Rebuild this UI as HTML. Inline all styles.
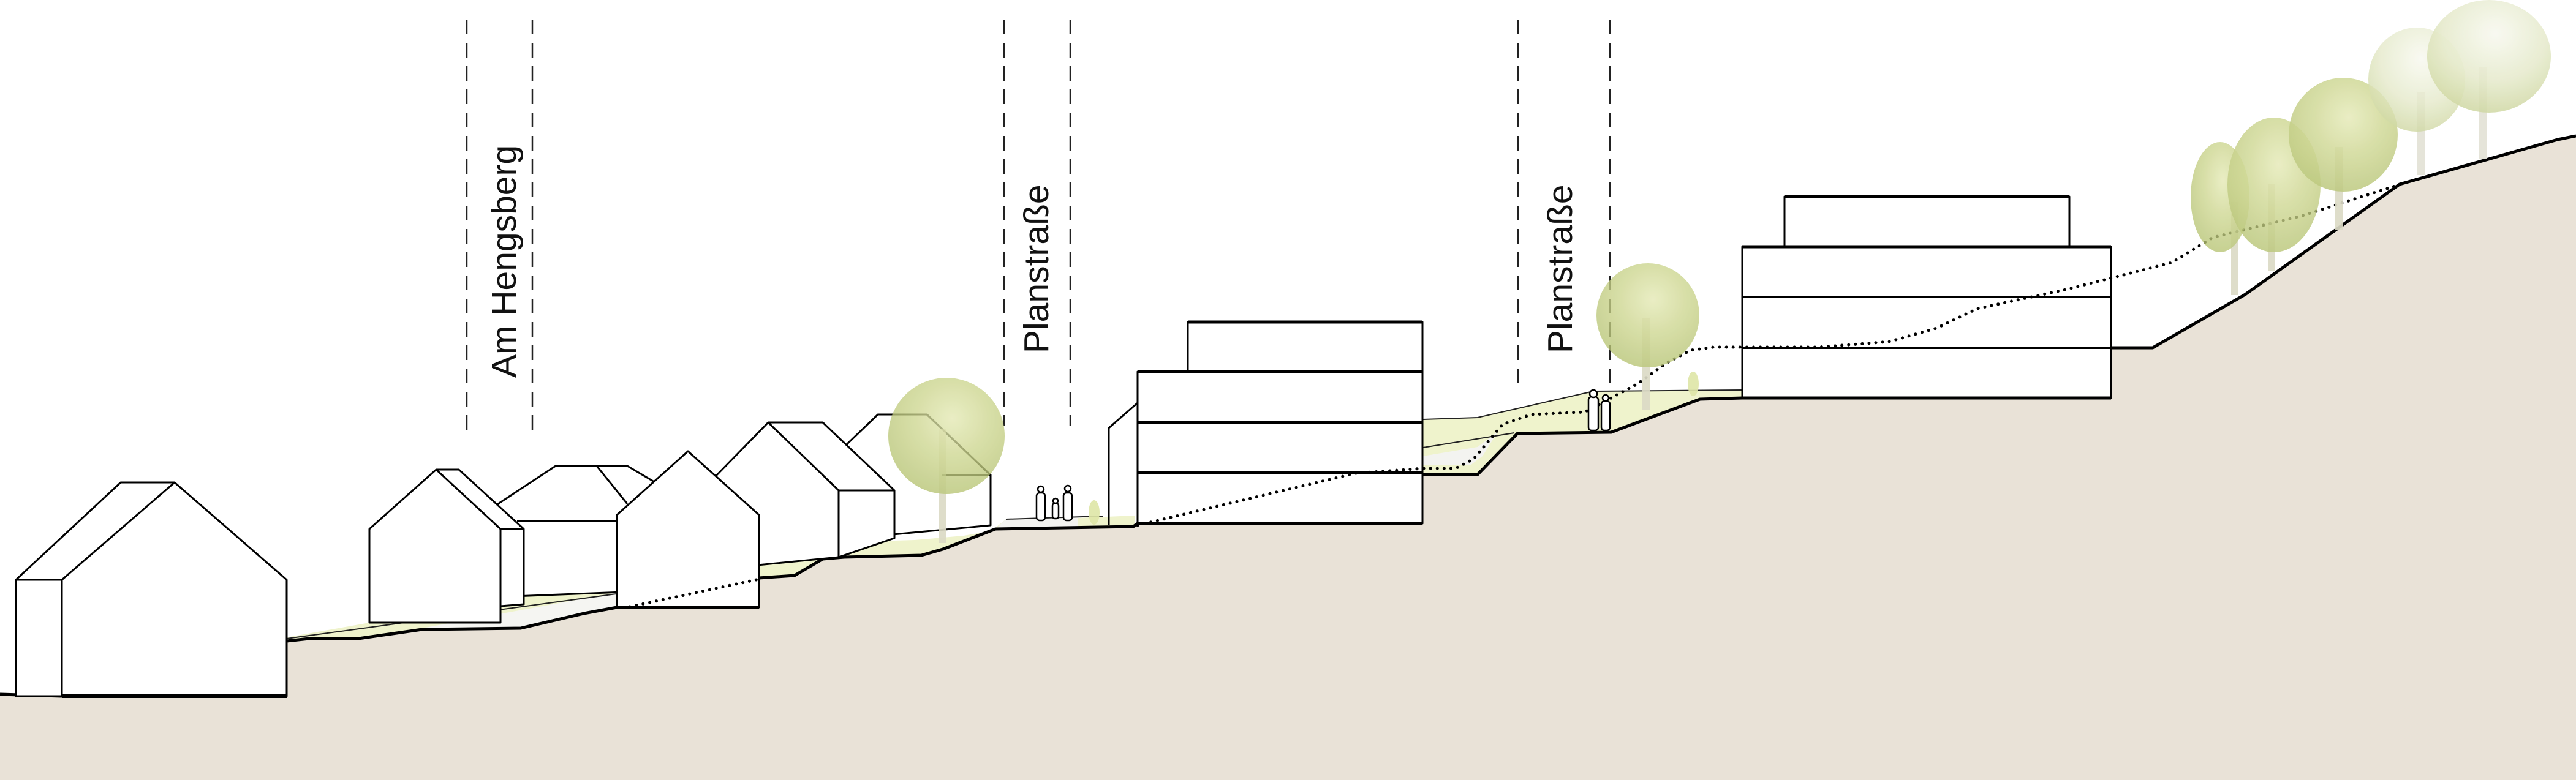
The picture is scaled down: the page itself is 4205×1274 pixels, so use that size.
<!DOCTYPE html>
<html><head><meta charset="utf-8"><style>
html,body{margin:0;padding:0;background:#fff}
svg{display:block}
text{font-family:"Liberation Sans",Arial,sans-serif;font-size:57px;fill:#111}
</style></head><body>
<svg width="4205" height="1274" viewBox="0 0 4205 1274" xmlns="http://www.w3.org/2000/svg">
<defs>
<radialGradient id="tg" cx="0.55" cy="0.35" r="0.65">
<stop offset="0" stop-color="#e4e9b4"/><stop offset="0.5" stop-color="#cdd68f"/><stop offset="1" stop-color="#b7c474"/>
</radialGradient>
<radialGradient id="tf" cx="0.55" cy="0.3" r="0.7">
<stop offset="0" stop-color="#f7f8ee"/><stop offset="0.6" stop-color="#e3e8c6"/><stop offset="1" stop-color="#ccd59c"/>
</radialGradient>
</defs>

<!-- ground -->
<polygon fill="#e9e2d7" points="0,1134 101,1137 468,1137 468,1047 505,1043 585,1043 689,1028 850,1026 953,1002 1007,992 1239,992 1239,944 1297,940 1343,913 1378,910 1504,907 1539,897 1625,864 1850,860 1857,855 2322,855 2322,775 2412,775 2477,708 2630,706 2775,652 2844,650 3446,650 3446,568 3514,568 3665,481 3917,301 4175,228 4205,222 4205,1274 0,1274"/>

<!-- green strips -->
<polygon fill="#eff3cc" points="468,1041 603,1017 689,1002 758,993 817,989 855,965 918,968 1006,963 1007,992 953,1002 850,1026 689,1028 585,1043 505,1043 468,1047"/>
<polygon fill="#f5f5f2" points="689,1026 1006,968 1007,992 953,1002 850,1026"/>
<polygon fill="#eff3cc" points="1239,918 1332,913 1372,905 1424,884 1493,882 1573,875 1619,867 1642,848 1642,862 1625,864 1539,897 1504,907 1378,910 1343,913 1297,940 1239,944"/>
<polygon fill="#f3f3f0" points="1642,848 1800,843 1800,860 1625,864"/>
<polygon fill="#eff3cc" points="1760,846 1852,842 1852,858 1760,860"/>
<polygon fill="#eff3cc" points="2323,685 2412,682 2601,639 2845,637 2845,648 2775,652 2630,706 2477,708 2412,775 2322,775"/>
<polygon fill="#f3f3f0" points="2323,760 2400,760 2420,745 2445,705 2412,730 2323,745"/>
<polyline fill="none" stroke="#222" stroke-width="2" points="2323,731 2472,707"/>
<polyline fill="none" stroke="#222" stroke-width="2" points="2323,685 2412,682 2601,639 2845,637"/>
<polyline fill="none" stroke="#222" stroke-width="2" points="468,1043 1006,970"/>
<polyline fill="none" stroke="#222" stroke-width="2" points="1642,848 1800,843"/>

<!-- ground outline -->
<polyline fill="none" stroke="#000" stroke-width="5" stroke-linejoin="round" points="0,1134 101,1137"/>
<polyline fill="none" stroke="#000" stroke-width="5" stroke-linejoin="round" points="468,1047 505,1043 585,1043 689,1028 850,1026 953,1002 1007,992"/>
<polyline fill="none" stroke="#000" stroke-width="5" stroke-linejoin="round" points="1239,944 1297,940 1343,913 1378,910 1504,907 1539,897 1625,864 1850,860 1857,855"/>
<polyline fill="none" stroke="#000" stroke-width="5" stroke-linejoin="round" points="2322,775 2412,775 2477,708 2630,706 2775,652 2844,650"/>
<polyline fill="none" stroke="#000" stroke-width="5" stroke-linejoin="round" points="3446,568 3514,568 3665,481 3917,301 4175,228 4205,222"/>

<!-- dashed street lines -->
<g stroke="#222" stroke-width="2.5" stroke-dasharray="24,14" fill="none">
<line x1="762" y1="32" x2="762" y2="705"/><line x1="869" y1="32" x2="869" y2="705"/>
<line x1="1639" y1="32" x2="1639" y2="695"/><line x1="1747" y1="32" x2="1747" y2="695"/>
<line x1="2478" y1="32" x2="2478" y2="640"/><line x1="2628" y1="32" x2="2628" y2="630"/>
</g>
<text transform="translate(842,617) rotate(-90)">Am Hengsberg</text>
<text transform="translate(1711,577) rotate(-90)">Planstraße</text>
<text transform="translate(2566,577) rotate(-90)">Planstraße</text>

<g stroke="#000" stroke-width="3" fill="#fff" stroke-linejoin="round">
<!-- house 6 (back) -->
<polygon points="1383,725 1433,677 1513,677 1617,776 1617,858 1383,880"/>
<polyline fill="none" points="1513,677 1617,776 1538,776"/>
<!-- house 5 -->
<polygon points="1166,780 1254,690 1343,690 1460,801 1460,879 1369,910 1166,930"/>
<polyline fill="none" points="1254,690 1369,801 1460,801"/>
<line x1="1369" y1="801" x2="1369" y2="910"/>
<!-- house 3 -->
<polygon points="813,823 907,761 1024,761 1068,787 1068,965 813,975"/>
<polyline fill="none" points="974,761 1024,823"/>
<line x1="844" y1="851" x2="1006" y2="851"/>
<!-- house 2 -->
<polygon points="603,864 712,767 749,767 855,864 855,987 817,990 817,1017 603,1017"/>
<polyline fill="none" points="712,767 817,864 855,864"/>
<line x1="817" y1="864" x2="817" y2="990"/>
<!-- house 4 -->
<polygon points="1007,841 1123,737 1239,841 1239,992 1007,992"/>
<!-- house 1 -->
<polygon points="26,947 197,788 285,788 468,947 468,1137 26,1137"/>
<polyline fill="none" points="26,947 101,947 285,788"/>
<line x1="101" y1="947" x2="101" y2="1137"/>
<!-- middle building -->
<polyline fill="none" points="1810,858 1810,699 1857,658"/>
<rect x="1939" y="526" width="383" height="81"/>
<rect x="1857" y="607" width="465" height="248"/>
<line x1="1857" y1="690" x2="2322" y2="690" stroke-width="5"/>
<line x1="1857" y1="772" x2="2322" y2="772" stroke-width="5"/>
<line x1="1939" y1="526" x2="2322" y2="526" stroke-width="5"/>
<line x1="1857" y1="607" x2="2322" y2="607" stroke-width="5"/>
<line x1="1857" y1="855" x2="2322" y2="855" stroke-width="5"/>
<!-- right building -->
<rect x="2913" y="321" width="465" height="82"/>
<rect x="2844" y="403" width="602" height="247"/>
<line x1="2844" y1="485" x2="3446" y2="485" stroke-width="4"/>
<line x1="2844" y1="568" x2="3446" y2="568" stroke-width="4"/>
<line x1="2913" y1="321" x2="3378" y2="321" stroke-width="5"/>
<line x1="2844" y1="403" x2="3446" y2="403" stroke-width="5"/>
<line x1="2844" y1="650" x2="3446" y2="650" stroke-width="5"/>
</g>
<line x1="101" y1="1137" x2="468" y2="1137" stroke="#000" stroke-width="6"/>
<line x1="1007" y1="992" x2="1239" y2="992" stroke="#000" stroke-width="6"/>

<!-- dotted line -->
<polyline fill="none" stroke="#000" stroke-width="5" stroke-dasharray="0.1,11" stroke-linecap="round" points="1028,991 1239,946"/>
<polyline fill="none" stroke="#000" stroke-width="5" stroke-dasharray="0.1,11" stroke-linecap="round" stroke-linejoin="round" points="1857,858 2213,773 2323,765 2376,765 2405,750 2453,693 2500,677 2587,673 2673,627 2720,593 2760,572 2797,567 2969,567 3084,558 3161,536 3228,504 3372,473 3545,429 3612,388 3756,353 3909,304"/>

<!-- trees -->
<g opacity="0.92">
<rect x="1533" y="700" width="12" height="187" fill="#dcdac6"/>
<ellipse cx="1545" cy="712" rx="95" ry="95" fill="url(#tg)" opacity="0.85"/>
<rect x="2681" y="520" width="12" height="150" fill="#dcdac6"/>
<ellipse cx="2690" cy="515" rx="84" ry="85" fill="url(#tg)" opacity="0.85"/>
<rect x="3642" y="330" width="12" height="152" fill="#dcdac6"/>
<ellipse cx="3624" cy="322" rx="48" ry="90" fill="url(#tg)" opacity="0.85"/>
<rect x="3702" y="300" width="12" height="142" fill="#dcdac6"/>
<ellipse cx="3712" cy="302" rx="76" ry="110" fill="url(#tg)" opacity="0.85"/>
<rect x="3812" y="240" width="12" height="135" fill="#dcdac6"/>
<ellipse cx="3825" cy="220" rx="89" ry="93" fill="url(#tg)" opacity="0.85"/>
<rect x="3946" y="150" width="12" height="136" fill="#e3e2d6"/>
<ellipse cx="3945" cy="130" rx="79" ry="85" fill="url(#tf)" opacity="0.8"/>
<rect x="4047" y="110" width="12" height="149" fill="#e3e2d6"/>
<ellipse cx="4063" cy="92" rx="101" ry="92" fill="url(#tf)" opacity="0.85"/>
<ellipse cx="1786" cy="837" rx="9" ry="20" fill="#dfe6a8"/>
<ellipse cx="2764" cy="627" rx="9" ry="20" fill="#dfe6a8"/>
</g>

<!-- people -->
<g stroke="#000" stroke-width="2.5" fill="#fff">
<rect x="1692" y="805" width="14" height="45" rx="5"/><circle cx="1699" cy="799" r="5"/>
<rect x="1718" y="822" width="10" height="25" rx="4"/><circle cx="1723" cy="818" r="4"/>
<rect x="1736" y="805" width="14" height="45" rx="5"/><circle cx="1743" cy="798" r="5"/>
<rect x="2593" y="648" width="16" height="55" rx="5"/><circle cx="2601" cy="643" r="6"/>
<rect x="2614" y="655" width="14" height="48" rx="5"/><circle cx="2621" cy="650" r="5"/>
</g>
</svg>
</body></html>
